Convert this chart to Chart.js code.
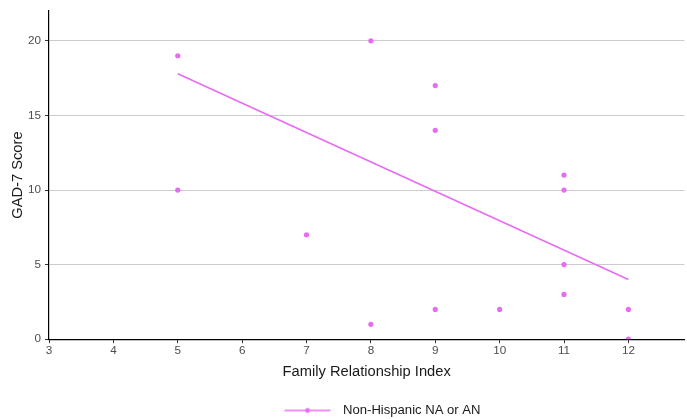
<!DOCTYPE html>
<html>
<head>
<meta charset="utf-8">
<script src="https://cdn.jsdelivr.net/npm/chart.js@4"></script>
<style>
  html, body { margin: 0; padding: 0; background: #fff; }
  #wrap { width: 687px; height: 419px; }
</style>
</head>
<body>
<div id="wrap"><canvas id="chart" width="687" height="419"></canvas></div>
<script>
// family relationship index vs GAD-7 score
const relIndex = [5, 5, 7, 8, 8, 9, 9, 9, 10, 11, 11, 11, 11, 12, 12];
const gadScore = [19, 10, 7, 20, 1, 17, 14, 2, 2, 11, 10, 5, 3, 2, 0];

// fitted trend line (ends)
const fitX = [5, 12];
const fitY = [17.8, 4.0];

const xTicks = [3, 4, 5, 6, 7, 8, 9, 10, 11, 12];
const yTicks = [0, 5, 10, 15, 20];

const seriesName = 'Non-Hispanic NA or AN';
const COL = '#E76BF3';
const FONT = 'Arial, "Liberation Sans", sans-serif';

// legend key: line with a dot, drawn on a small canvas
function makeKey() {
  const c = document.createElement('canvas');
  c.width = 131; c.height = 8;
  const g = c.getContext('2d');
  g.strokeStyle = COL; g.lineWidth = 1.6;
  g.beginPath(); g.moveTo(79, 4); g.lineTo(125, 4); g.stroke();
  g.fillStyle = COL;
  g.beginPath(); g.arc(102, 4, 2.4, 0, Math.PI * 2); g.fill();
  return c;
}
const key = makeKey();

new Chart(document.getElementById('chart'), {
  type: 'scatter',
  data: {
    datasets: [
      {
        label: seriesName,
        data: relIndex.map((x, i) => ({ x: x, y: gadScore[i] })),
        backgroundColor: COL,
        borderColor: COL,
        pointRadius: 2.6,
        pointHoverRadius: 2.6,
        borderWidth: 0
      },
      {
        label: 'fit',
        type: 'line',
        data: fitX.map((x, i) => ({ x: x, y: fitY[i] })),
        borderColor: COL,
        borderWidth: 1.6,
        pointRadius: 0,
        fill: false
      }
    ]
  },
  options: {
    responsive: false,
    animation: false,
    layout: { padding: { top: 11, right: 1, left: 0, bottom: -8 } },
    plugins: {
      tooltip: { enabled: false },
      legend: {
        position: 'bottom',
        labels: {
          usePointStyle: true,
          pointStyleWidth: 131,
          padding: 10,
          color: '#1a1a1a',
          font: { family: FONT, size: 13.1 },
          generateLabels: chart => [{
            text: seriesName,
            pointStyle: key,
            fillStyle: COL,
            strokeStyle: COL,
            lineWidth: 0,
            datasetIndex: 0,
            fontColor: '#1a1a1a'
          }]
        }
      }
    },
    scales: {
      x: {
        type: 'linear',
        min: 3,
        max: 12.87,
        afterBuildTicks: s => { s.ticks = xTicks.map(v => ({ value: v })); },
        afterFit: s => { s.paddingLeft = 0; s.paddingRight = 0; },
        ticks: {
          color: '#4d4d4d',
          font: { family: FONT, size: 11.7 },
          padding: 1,
          maxRotation: 0
        },
        grid: {
          drawOnChartArea: false,
          tickLength: 4,
          tickColor: '#333'
        },
        border: { color: '#000', width: 1.2 },
        title: {
          display: true,
          text: 'Family Relationship Index',
          color: '#1a1a1a',
          font: { family: FONT, size: 14.7 },
          padding: { top: 4, bottom: 13 }
        }
      },
      y: {
        min: 0,
        max: 22,
        afterBuildTicks: s => { s.ticks = yTicks.map(v => ({ value: v })); },
        afterFit: s => { s.width = 49; s.paddingTop = 0; s.paddingBottom = 0; },
        ticks: {
          color: '#4d4d4d',
          font: { family: FONT, size: 11.7 },
          padding: 4
        },
        grid: {
          color: c => (c.tick && c.tick.value === 0) ? 'rgba(0,0,0,0)' : '#cccccc',
          lineWidth: 1,
          tickLength: 4,
          tickColor: '#333'
        },
        border: { color: '#000', width: 1.2 },
        title: {
          display: true,
          text: 'GAD-7 Score',
          color: '#1a1a1a',
          font: { family: FONT, size: 14.7 },
          padding: { top: 9, bottom: 0 }
        }
      }
    }
  }
});
</script>
</body>
</html>
